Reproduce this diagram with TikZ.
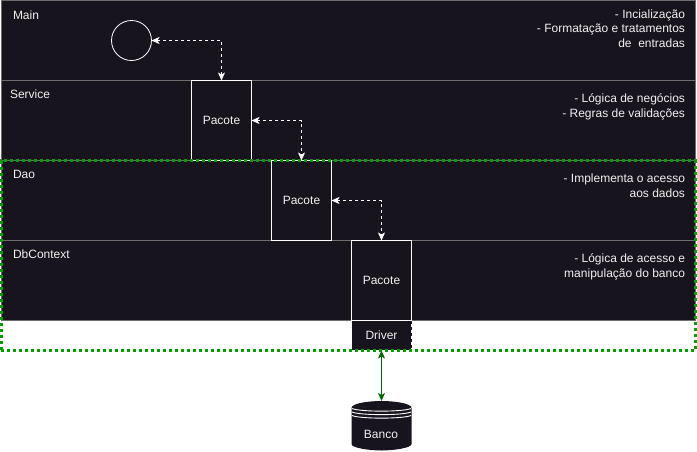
\documentclass[tikz,border=0pt]{standalone}
\usepackage{fontspec}
\setmainfont{Liberation Sans}
\usetikzlibrary{arrows.meta}
\definecolor{bandfill}{HTML}{18141D}
\definecolor{bandline}{HTML}{6E6E6E}
\definecolor{txt}{HTML}{F0F0F0}
\definecolor{grn}{HTML}{00A000}
\definecolor{dgrn}{HTML}{006600}
\tikzset{
  x=1pt,y=-1pt,outer sep=0pt,
  band/.style={draw=bandline,fill=bandfill,line width=1pt,minimum width=694pt,minimum height=80pt,inner sep=0pt,anchor=north west},
  pkg/.style={draw=white,fill=bandfill,line width=1pt,minimum width=60pt,minimum height=80pt,inner sep=0pt,text=txt,font=\fontsize{12}{15}\selectfont},
  lbl/.style={text=txt,font=\fontsize{12}{15}\selectfont,inner sep=0pt,anchor=west},
  note/.style={text=txt,font=\fontsize{12}{15}\selectfont,inner sep=0pt,anchor=base east},
  link/.style={draw=white,line width=1pt,dash pattern=on 3pt off 3pt,{Stealth[length=8pt,width=7pt,inset=2pt]}-{Stealth[length=8pt,width=7pt,inset=2pt]}},
  dblink/.style={draw=dgrn,line width=1pt,{Stealth[length=8pt,width=7pt,inset=2pt]}-{Stealth[length=8pt,width=7pt,inset=2pt]}},
}
\begin{document}
\begin{tikzpicture}
\useasboundingbox (0,0) rectangle (697,451);
\fill[white] (0,0) rectangle (697,451);
% bands
\node[band] (bmain) at (1.5,0.5) {};
\node[band] (bservice) at (1.5,80.5) {};
\node[band] (bdao) at (1.5,160.5) {};
\node[band] (bctx) at (1.5,240.5) {};
% labels
\node[lbl] (lmain) at (13,15) {Main};
\node[lbl] (lservice) at (10,94.5) {Service};
\node[lbl] (ldao) at (13,174) {Dao};
\node[lbl] (lctx) at (13,254.5) {DbContext};
% notes
\node[note] (nmain1) at (685,18) {- Incialização};
\node[note] (nmain2) at (685,32.5) {- Formatação e tratamentos};
\node[note] (nmain3) at (685,47) {de\ \ entradas};
\node[note] (nservice1) at (685,102) {- Lógica de negócios};
\node[note] (nservice2) at (685,117) {- Regras de validações};
\node[note] (ndao1) at (685,182) {- Implementa o acesso};
\node[note] (ndao2) at (685,197) {aos dados};
\node[note] (nctx1) at (685,262) {- Lógica de acesso e};
\node[note] (nctx2) at (685,277) {manipulação do banco};
% components
\node[draw=white,line width=0.8pt,circle,minimum size=40pt,inner sep=0pt] (start) at (131.5,40.5) {};
\node[pkg] (p1) at (221.5,120.5) {Pacote};
\node[pkg] (p2) at (301.5,200.5) {Pacote};
\node[pkg] (p3) at (381.5,280.5) {Pacote};
\node[draw=white,fill=bandfill,line width=0.8pt,dash pattern=on 3pt off 3pt,minimum width=60pt,minimum height=30pt,inner sep=0pt,text=txt,font=\fontsize{12}{15}\selectfont] (driver) at (381.5,335.5) {Driver};
% connectors
\draw[link] (start.east) -| (p1.north);
\draw[link] (p1.east) -| (p2.north);
\draw[link] (p2.east) -| (p3.north);
% database
\fill[bandfill] (351.5,408) .. controls (351.5,403) and (370,401) .. (381.5,401)
  .. controls (393,401) and (411.5,403) .. (411.5,408)
  -- (411.5,444) .. controls (411.5,448) and (393,450.5) .. (381.5,450.5)
  .. controls (370,450.5) and (351.5,448) .. (351.5,444) -- cycle;
\draw[white,line width=0.9pt] (352,408.5) .. controls (360,412) and (403,412) .. (411,408.5);
\draw[white,line width=0.9pt] (352,412) .. controls (360,415.5) and (403,415.5) .. (411,412);
\draw[white,line width=0.9pt] (352,415.5) .. controls (360,419) and (403,419) .. (411,415.5);
\node[inner sep=0pt,minimum width=60pt,minimum height=50pt] (db) at (381.5,426) {};
\node[inner sep=0pt,text=txt,font=\fontsize{12}{15}\selectfont] (dbtext) at (381,434.5) {Banco};
% green frame
\node[draw=grn,line width=3pt,dash pattern=on 3pt off 3pt,minimum width=694pt,minimum height=190pt,inner sep=0pt,anchor=north west] (frame) at (1,160.5) {};
\draw[dblink] (driver.south) -- (db.north);
\end{tikzpicture}
\end{document}
